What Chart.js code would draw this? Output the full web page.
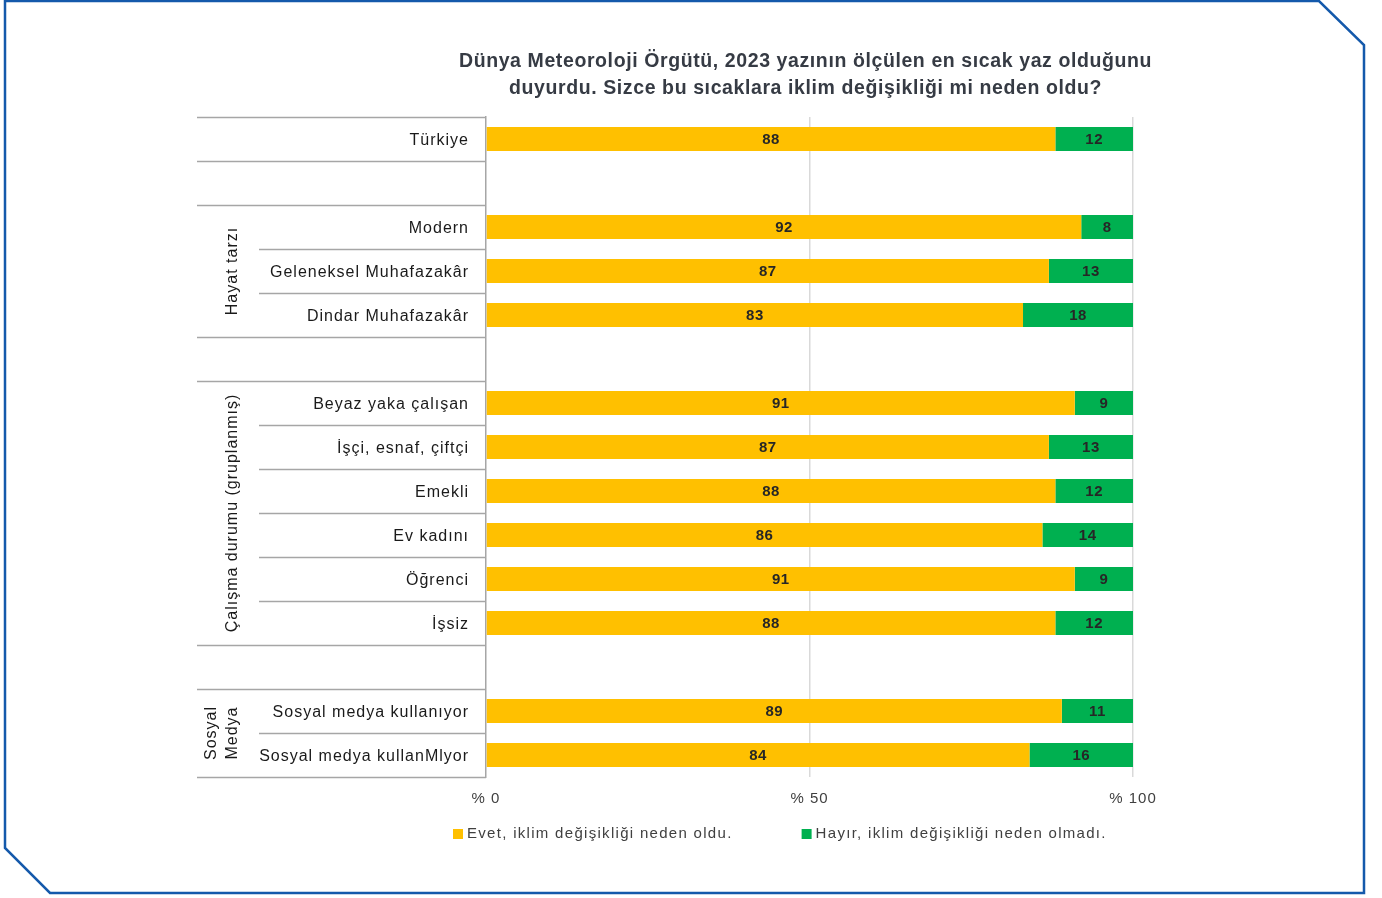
<!DOCTYPE html>
<html><head><meta charset="utf-8">
<script src="https://cdn.jsdelivr.net/npm/chart.js@4.4.0/dist/chart.umd.min.js"></script>
<style>html,body{margin:0;padding:0;background:#fff}#wrap{position:relative;width:1382px;height:898px}</style>
</head><body><div id="wrap"><canvas id="c"></canvas></div>
<script>
const categories = ['Türkiye','','Modern','Geleneksel Muhafazakâr','Dindar Muhafazakâr','','Beyaz yaka çalışan','İşçi, esnaf, çiftçi','Emekli','Ev kadını','Öğrenci','İşsiz','','Sosyal medya kullanıyor','Sosyal medya kullanMlyor'];
const evet  = [88,null,92,87,83,null,91,87,88,86,91,88,null,89,84];
const hayir = [12,null,8,13,18,null,9,13,12,14,9,12,null,11,16];
const seriesNames = ['Evet, iklim değişikliği neden oldu.','Hayır, iklim değişikliği neden olmadı.'];
const titleLines = ['Dünya Meteoroloji Örgütü, 2023 yazının ölçülen en sıcak yaz olduğunu','duyurdu. Sizce bu sıcaklara iklim değişikliği mi neden oldu?'];
const xTicks = [0,50,100];
const groupLabels = [['Hayat tarzı'],['Çalışma durumu (gruplanmış)'],['Sosyal','Medya']];
const groupRows = [[2,4],[6,11],[13,14]];

const YELLOW = '#FFC000', GREEN = '#00B050';
const FONT = "'Liberation Sans', Arial, sans-serif";

function groupOf(i){
  for (let g=0; g<groupRows.length; g++) if (i>=groupRows[g][0] && i<=groupRows[g][1]) return g;
  return null;
}

const framePlugin = {
  id:'frame',
  beforeDraw(chart){
    const c = chart.ctx;
    c.letterSpacing = '1px';
    c.save();
    c.strokeStyle = '#1459ab'; c.lineWidth = 2.5;
    c.beginPath();
    c.moveTo(5,1); c.lineTo(1319,1); c.lineTo(1364,45); c.lineTo(1364,893);
    c.lineTo(50,893); c.lineTo(5,848); c.closePath(); c.stroke();
    c.restore();
  },
  afterDraw(chart){ chart.ctx.letterSpacing = '0px'; }
};

const tablePlugin = {
  id:'table',
  afterDraw(chart){
    const c = chart.ctx, y = chart.scales.y, area = chart.chartArea;
    const band = (y.getPixelForValue(1) - y.getPixelForValue(0));
    c.save();
    // title
    c.letterSpacing = '0.6px';
    c.font = 'bold 19.5px ' + FONT;
    c.fillStyle = '#363b44';
    c.textAlign = 'center'; c.textBaseline = 'middle';
    const tx = (area.left + area.right)/2 - 4;
    titleLines.forEach((t, k) => c.fillText(t, tx, area.top - 55 + k*27));
    // table lines
    c.strokeStyle = '#a6a6a6'; c.lineWidth = 1.5;
    for (let b=0; b<=categories.length; b++){
      const py = b < categories.length ? y.getPixelForValue(b) - band/2 : y.getPixelForValue(b-1) + band/2;
      const gA = b>0 ? groupOf(b-1) : null, gB = b<categories.length ? groupOf(b) : null;
      const inner = gA!==null && gA===gB;
      const x0 = inner ? area.left - 227 : area.left - 289;
      c.beginPath(); c.moveTo(x0, Math.round(py)+0.5); c.lineTo(area.left, Math.round(py)+0.5); c.stroke();
    }
    // group labels (rotated)
    c.letterSpacing = '1px';
    c.fillStyle = '#1a1a1a';
    c.font = '16px ' + FONT;
    c.textAlign = 'center'; c.textBaseline = 'middle';
    groupLabels.forEach((lines, g) => {
      const cy = (y.getPixelForValue(groupRows[g][0]) + y.getPixelForValue(groupRows[g][1]))/2;
      lines.forEach((t, k) => {
        const cx = area.left - 253 - (lines.length-1-k)*21;
        c.save(); c.translate(cx, cy); c.rotate(-Math.PI/2); c.fillText(t, 0, 0); c.restore();
      });
    });
    // legend
    c.letterSpacing = '1.3px';
    c.font = '15px ' + FONT;
    c.textAlign = 'left'; c.textBaseline = 'middle';
    let lx = area.left - 33;
    const ly = area.bottom + 57;
    chart.data.datasets.forEach((ds) => {
      c.fillStyle = ds.backgroundColor;
      c.fillRect(lx, ly-5, 10, 10);
      c.fillStyle = '#404040';
      c.fillText(ds.label, lx+14, ly);
      lx += 14 + c.measureText(ds.label).width + 69;
    });
    c.restore();
  }
};

const valueLabels = {
  id:'valueLabels',
  afterDatasetsDraw(chart){
    const c = chart.ctx, area = chart.chartArea;
    c.save();
    c.letterSpacing = '0.5px';
    c.font = 'bold 15px ' + FONT;
    c.fillStyle = '#262626';
    c.textAlign = 'center'; c.textBaseline = 'middle';
    chart.data.datasets.forEach((ds, di) => {
      chart.getDatasetMeta(di).data.forEach((el, i) => {
        const v = ds.data[i];
        if (v === null || v === undefined) return;
        const p = el.getProps(['x','y','base'], true);
        const x1 = Math.min(p.x, area.right), x0 = Math.max(Math.min(p.base, area.right), area.left);
        c.fillText(String(v), (x0+x1)/2, p.y+1);
      });
    });
    c.restore();
  }
};

new Chart(document.getElementById('c'), {
  type:'bar',
  data:{
    labels: categories,
    datasets:[
      {label: seriesNames[0], data: evet, backgroundColor: YELLOW, borderWidth:0, barPercentage:0.55, categoryPercentage:1},
      {label: seriesNames[1], data: hayir, backgroundColor: GREEN, borderWidth:0, barPercentage:0.55, categoryPercentage:1}
    ]
  },
  options:{
    indexAxis:'y',
    responsive:true, maintainAspectRatio:false, animation:false,
    layout:{padding:{left:0, right:249, top:117, bottom:81}},
    plugins:{
      legend:{display:false},
      tooltip:{enabled:false},
      title:{display:false}
    },
    scales:{
      x:{
        stacked:true, min:0, max:100,
        afterBuildTicks(s){ s.ticks = xTicks.map(v => ({value:v})); },
        afterFit(s){ s.height = 40; },
        ticks:{ callback:(v)=>'% ' + v, color:'#404040', font:{family:FONT, size:15}, padding:13, maxRotation:0 },
        grid:{ color:(ctx)=> ctx.tick && ctx.tick.value===0 ? 'rgba(0,0,0,0)' : '#d9d9d9', lineWidth:1.5, drawTicks:false },
        border:{display:false}
      },
      y:{
        stacked:true,
        afterFit(s){ s.width = 486; },
        ticks:{ color:'#1a1a1a', font:{family:FONT, size:16}, padding:17, autoSkip:false, labelOffset:2 },
        grid:{ display:false, drawTicks:false },
        border:{ display:true, color:'#a6a6a6', width:1.5 }
      }
    }
  },
  plugins:[framePlugin, valueLabels, tablePlugin]
});
</script>
</body></html>
